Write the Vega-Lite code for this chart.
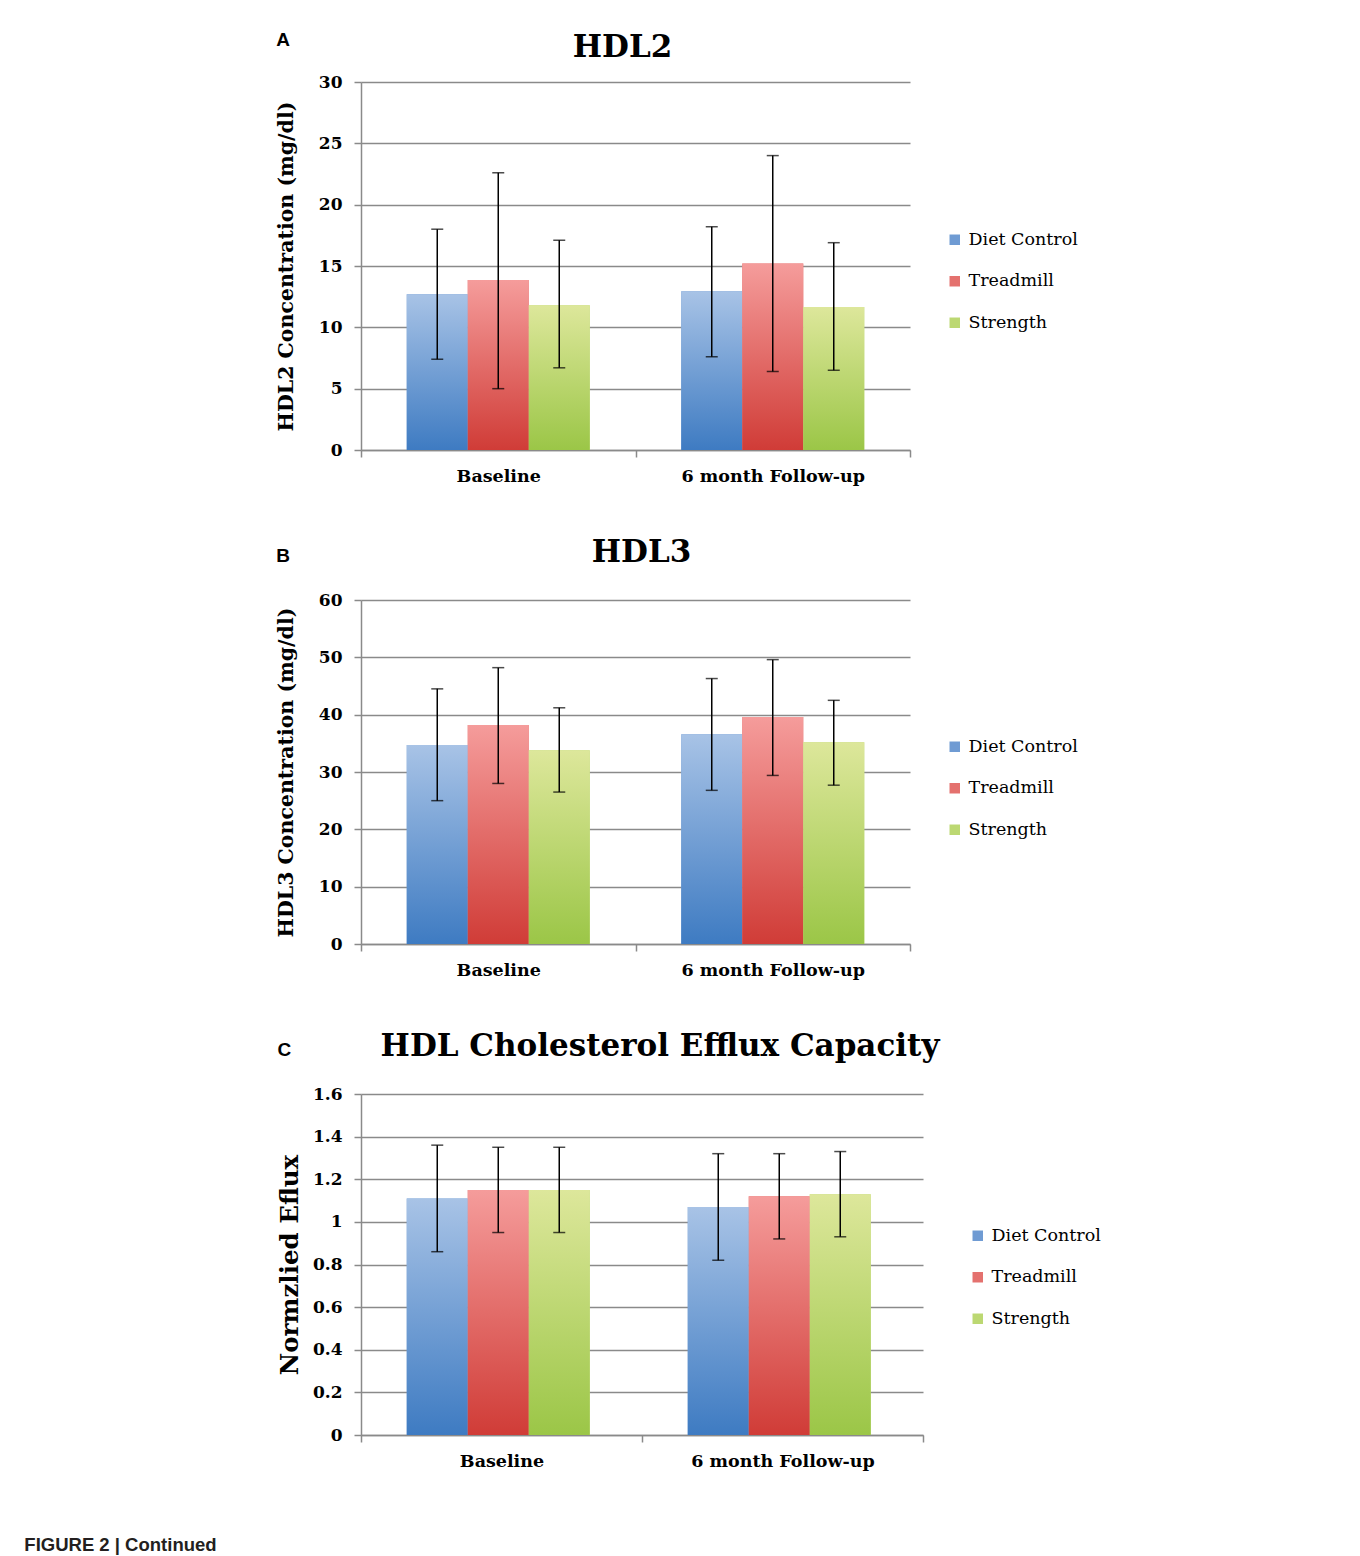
{
  "$schema": "https://vega.github.io/schema/vega-lite/v6.json",
  "background": "white",
  "padding": {"left": 24, "top": 31, "right": 10, "bottom": 4},
  "columns": 1,
  "align": "none",
  "spacing": 52,
  "title": {"text": "FIGURE 2 | Continued", "orient": "bottom", "anchor": "start", "frame": "bounds", "dx": -252, "offset": 66, "font": "Liberation Sans", "fontSize": 18.5, "fontWeight": "bold", "color": "#231f20"},
  "config": {
    "view": {"stroke": null},
    "axis": {
      "domainColor": "#8a8a8a", "domainWidth": 1.5, "tickColor": "#8a8a8a", "tickWidth": 1.5, "tickSize": 7,
      "gridColor": "#8a8a8a", "gridWidth": 1.5,
      "labelFont": "DejaVu Serif", "labelFontWeight": "bold", "labelColor": "black", "labelFontSize": 17,
      "titleFont": "DejaVu Serif", "titleFontWeight": "bold", "titleColor": "black"
    },
    "legend": {
      "title": null, "orient": "none", "symbolType": "square", "symbolSize": 110, "symbolStrokeWidth": 0,
      "labelFont": "DejaVu Serif", "labelFontSize": 17.5, "labelColor": "black", "rowPadding": 22.5, "labelOffset": 5,
      "symbolOpacity": 1
    },
    "title": {"color": "black"}
  },
  "resolve": {"scale": {"color": "independent", "y": "independent"}, "legend": {"color": "independent"}},
  "concat": [
    {
      "title": {"text": "A", "anchor": "start", "frame": "bounds", "offset": -18, "font": "Liberation Sans", "fontSize": 19, "fontWeight": "bold", "color": "black"},
      "vconcat": [
        {
          "title": {"text": "HDL2", "anchor": "middle", "frame": "group", "dx": -13, "offset": 9, "font": "DejaVu Serif", "fontSize": 31, "fontWeight": "bold", "color": "black"},
          "width": 549,
          "height": 368,
          "data": {"values": [
            {"time": "Baseline", "group": "Diet Control", "mean": 12.7, "lo": 7.4, "hi": 18.0},
            {"time": "Baseline", "group": "Treadmill", "mean": 13.85, "lo": 5.0, "hi": 22.6},
            {"time": "Baseline", "group": "Strength", "mean": 11.8, "lo": 6.7, "hi": 17.1},
            {"time": "6 month Follow-up", "group": "Diet Control", "mean": 12.95, "lo": 7.6, "hi": 18.2},
            {"time": "6 month Follow-up", "group": "Treadmill", "mean": 15.2, "lo": 6.4, "hi": 24.0},
            {"time": "6 month Follow-up", "group": "Strength", "mean": 11.65, "lo": 6.5, "hi": 16.9}
          ]},
          "encoding": {
            "x": {"field": "time", "type": "nominal", "sort": ["Baseline", "6 month Follow-up"], "scale": {"paddingInner": 0, "paddingOuter": 0},
              "axis": {"title": null, "labelAngle": 0, "tickBand": "extent", "labelPadding": 10, "labelFontSize": 17.5, "labelLimit": 400, "grid": false}},
            "xOffset": {"field": "group", "type": "nominal", "scale": {"domain": ["Diet Control", "Treadmill", "Strength"], "paddingInner": 0, "paddingOuter": 0.75}},
            "y": {"field": "mean", "type": "quantitative", "title": "HDL2 Concentration (mg/dl)", "scale": {"domain": [0, 30], "nice": false},
              "axis": {"values": [0, 5, 10, 15, 20, 25, 30], "labelPadding": 12, "titlePadding": 22, "titleFontSize": 20.5}}
          },
          "layer": [
            {
              "mark": {"type": "bar"},
              "encoding": {
                "color": {"field": "group", "type": "nominal",
                  "scale": {"domain": ["Diet Control", "Treadmill", "Strength"], "range": ["#6f9bd3", "#e4716e", "#bcd872"]},
                  "legend": {"legendX": 585, "legendY": 149,
                    "encode": {"symbols": {"update": {"fill": [
                      {"test": "datum.value === 'Diet Control'", "value": {"gradient": "linear", "x1": 0, "y1": 0, "x2": 0, "y2": 1, "stops": [{"offset": 0, "color": "#a8c3e6"}, {"offset": 1, "color": "#3e7bc2"}]}},
                      {"test": "datum.value === 'Treadmill'", "value": {"gradient": "linear", "x1": 0, "y1": 0, "x2": 0, "y2": 1, "stops": [{"offset": 0, "color": "#f59c9b"}, {"offset": 1, "color": "#d03c37"}]}},
                      {"value": {"gradient": "linear", "x1": 0, "y1": 0, "x2": 0, "y2": 1, "stops": [{"offset": 0, "color": "#dde79b"}, {"offset": 1, "color": "#9bc647"}]}}
                    ]}}}}}
              }
            },
            {"transform": [{"filter": "datum.group === 'Diet Control'"}], "mark": {"type": "bar", "fill": {"gradient": "linear", "x1": 0, "y1": 0, "x2": 0, "y2": 1, "stops": [{"offset": 0, "color": "#a8c3e6"}, {"offset": 1, "color": "#3e7bc2"}]}}},
            {"transform": [{"filter": "datum.group === 'Treadmill'"}], "mark": {"type": "bar", "fill": {"gradient": "linear", "x1": 0, "y1": 0, "x2": 0, "y2": 1, "stops": [{"offset": 0, "color": "#f59c9b"}, {"offset": 1, "color": "#d03c37"}]}}},
            {"transform": [{"filter": "datum.group === 'Strength'"}], "mark": {"type": "bar", "fill": {"gradient": "linear", "x1": 0, "y1": 0, "x2": 0, "y2": 1, "stops": [{"offset": 0, "color": "#dde79b"}, {"offset": 1, "color": "#9bc647"}]}}},
            {
              "mark": {"type": "rule", "color": "black", "strokeWidth": 1.5},
              "encoding": {"y": {"field": "lo", "type": "quantitative", "title": "HDL2 Concentration (mg/dl)"}, "y2": {"field": "hi"}}
            },
            {
              "mark": {"type": "tick", "color": "black", "thickness": 1.5, "size": 12},
              "encoding": {"y": {"field": "lo", "type": "quantitative", "title": "HDL2 Concentration (mg/dl)"}}
            },
            {
              "mark": {"type": "tick", "color": "black", "thickness": 1.5, "size": 12},
              "encoding": {"y": {"field": "hi", "type": "quantitative", "title": "HDL2 Concentration (mg/dl)"}}
            }
          ]
        }
      ]
    },
    {
      "title": {"text": "B", "anchor": "start", "frame": "bounds", "offset": -29, "font": "Liberation Sans", "fontSize": 19, "fontWeight": "bold", "color": "black"},
      "vconcat": [
        {
          "title": {"text": "HDL3", "anchor": "middle", "frame": "group", "dx": 6, "offset": 22, "font": "DejaVu Serif", "fontSize": 31, "fontWeight": "bold", "color": "black"},
          "width": 549,
          "height": 344,
          "data": {"values": [
            {"time": "Baseline", "group": "Diet Control", "mean": 34.7, "lo": 25.0, "hi": 44.5},
            {"time": "Baseline", "group": "Treadmill", "mean": 38.2, "lo": 28.0, "hi": 48.2},
            {"time": "Baseline", "group": "Strength", "mean": 33.8, "lo": 26.5, "hi": 41.2},
            {"time": "6 month Follow-up", "group": "Diet Control", "mean": 36.6, "lo": 26.8, "hi": 46.3},
            {"time": "6 month Follow-up", "group": "Treadmill", "mean": 39.6, "lo": 29.4, "hi": 49.6},
            {"time": "6 month Follow-up", "group": "Strength", "mean": 35.2, "lo": 27.7, "hi": 42.5}
          ]},
          "encoding": {
            "x": {"field": "time", "type": "nominal", "sort": ["Baseline", "6 month Follow-up"], "scale": {"paddingInner": 0, "paddingOuter": 0},
              "axis": {"title": null, "labelAngle": 0, "tickBand": "extent", "labelPadding": 10, "labelFontSize": 17.5, "labelLimit": 400, "grid": false}},
            "xOffset": {"field": "group", "type": "nominal", "scale": {"domain": ["Diet Control", "Treadmill", "Strength"], "paddingInner": 0, "paddingOuter": 0.75}},
            "y": {"field": "mean", "type": "quantitative", "title": "HDL3 Concentration (mg/dl)", "scale": {"domain": [0, 60], "nice": false},
              "axis": {"values": [0, 10, 20, 30, 40, 50, 60], "labelPadding": 12, "titlePadding": 22, "titleFontSize": 20.5}}
          },
          "layer": [
            {
              "mark": {"type": "bar"},
              "encoding": {
                "color": {"field": "group", "type": "nominal",
                  "scale": {"domain": ["Diet Control", "Treadmill", "Strength"], "range": ["#6f9bd3", "#e4716e", "#bcd872"]},
                  "legend": {"legendX": 585, "legendY": 138,
                    "encode": {"symbols": {"update": {"fill": [
                      {"test": "datum.value === 'Diet Control'", "value": {"gradient": "linear", "x1": 0, "y1": 0, "x2": 0, "y2": 1, "stops": [{"offset": 0, "color": "#a8c3e6"}, {"offset": 1, "color": "#3e7bc2"}]}},
                      {"test": "datum.value === 'Treadmill'", "value": {"gradient": "linear", "x1": 0, "y1": 0, "x2": 0, "y2": 1, "stops": [{"offset": 0, "color": "#f59c9b"}, {"offset": 1, "color": "#d03c37"}]}},
                      {"value": {"gradient": "linear", "x1": 0, "y1": 0, "x2": 0, "y2": 1, "stops": [{"offset": 0, "color": "#dde79b"}, {"offset": 1, "color": "#9bc647"}]}}
                    ]}}}}}
              }
            },
            {"transform": [{"filter": "datum.group === 'Diet Control'"}], "mark": {"type": "bar", "fill": {"gradient": "linear", "x1": 0, "y1": 0, "x2": 0, "y2": 1, "stops": [{"offset": 0, "color": "#a8c3e6"}, {"offset": 1, "color": "#3e7bc2"}]}}},
            {"transform": [{"filter": "datum.group === 'Treadmill'"}], "mark": {"type": "bar", "fill": {"gradient": "linear", "x1": 0, "y1": 0, "x2": 0, "y2": 1, "stops": [{"offset": 0, "color": "#f59c9b"}, {"offset": 1, "color": "#d03c37"}]}}},
            {"transform": [{"filter": "datum.group === 'Strength'"}], "mark": {"type": "bar", "fill": {"gradient": "linear", "x1": 0, "y1": 0, "x2": 0, "y2": 1, "stops": [{"offset": 0, "color": "#dde79b"}, {"offset": 1, "color": "#9bc647"}]}}},
            {
              "mark": {"type": "rule", "color": "black", "strokeWidth": 1.5},
              "encoding": {"y": {"field": "lo", "type": "quantitative", "title": "HDL3 Concentration (mg/dl)"}, "y2": {"field": "hi"}}
            },
            {
              "mark": {"type": "tick", "color": "black", "thickness": 1.5, "size": 12},
              "encoding": {"y": {"field": "lo", "type": "quantitative", "title": "HDL3 Concentration (mg/dl)"}}
            },
            {
              "mark": {"type": "tick", "color": "black", "thickness": 1.5, "size": 12},
              "encoding": {"y": {"field": "hi", "type": "quantitative", "title": "HDL3 Concentration (mg/dl)"}}
            }
          ]
        }
      ]
    },
    {
      "title": {"text": "C", "anchor": "start", "frame": "bounds", "offset": -29, "font": "Liberation Sans", "fontSize": 19, "fontWeight": "bold", "color": "black"},
      "vconcat": [
        {
          "title": {"text": "HDL Cholesterol Efflux Capacity", "anchor": "middle", "frame": "group", "dx": 18, "offset": 22, "font": "DejaVu Serif", "fontSize": 31, "fontWeight": "bold", "color": "black"},
          "width": 562,
          "height": 341,
          "data": {"values": [
            {"time": "Baseline", "group": "Diet Control", "mean": 1.11, "lo": 0.86, "hi": 1.36},
            {"time": "Baseline", "group": "Treadmill", "mean": 1.15, "lo": 0.95, "hi": 1.35},
            {"time": "Baseline", "group": "Strength", "mean": 1.15, "lo": 0.95, "hi": 1.35},
            {"time": "6 month Follow-up", "group": "Diet Control", "mean": 1.07, "lo": 0.82, "hi": 1.32},
            {"time": "6 month Follow-up", "group": "Treadmill", "mean": 1.12, "lo": 0.92, "hi": 1.32},
            {"time": "6 month Follow-up", "group": "Strength", "mean": 1.13, "lo": 0.93, "hi": 1.33}
          ]},
          "encoding": {
            "x": {"field": "time", "type": "nominal", "sort": ["Baseline", "6 month Follow-up"], "scale": {"paddingInner": 0, "paddingOuter": 0},
              "axis": {"title": null, "labelAngle": 0, "tickBand": "extent", "labelPadding": 10, "labelFontSize": 17.5, "labelLimit": 400, "grid": false}},
            "xOffset": {"field": "group", "type": "nominal", "scale": {"domain": ["Diet Control", "Treadmill", "Strength"], "paddingInner": 0, "paddingOuter": 0.75}},
            "y": {"field": "mean", "type": "quantitative", "title": "Normzlied Eflux", "scale": {"domain": [0, 1.6], "nice": false},
              "axis": {"values": [0, 0.2, 0.4, 0.6, 0.8, 1, 1.2, 1.4, 1.6], "format": "~g", "labelPadding": 12, "titlePadding": 10, "titleFontSize": 24.5}}
          },
          "layer": [
            {
              "mark": {"type": "bar"},
              "encoding": {
                "color": {"field": "group", "type": "nominal",
                  "scale": {"domain": ["Diet Control", "Treadmill", "Strength"], "range": ["#6f9bd3", "#e4716e", "#bcd872"]},
                  "legend": {"legendX": 608, "legendY": 133,
                    "encode": {"symbols": {"update": {"fill": [
                      {"test": "datum.value === 'Diet Control'", "value": {"gradient": "linear", "x1": 0, "y1": 0, "x2": 0, "y2": 1, "stops": [{"offset": 0, "color": "#a8c3e6"}, {"offset": 1, "color": "#3e7bc2"}]}},
                      {"test": "datum.value === 'Treadmill'", "value": {"gradient": "linear", "x1": 0, "y1": 0, "x2": 0, "y2": 1, "stops": [{"offset": 0, "color": "#f59c9b"}, {"offset": 1, "color": "#d03c37"}]}},
                      {"value": {"gradient": "linear", "x1": 0, "y1": 0, "x2": 0, "y2": 1, "stops": [{"offset": 0, "color": "#dde79b"}, {"offset": 1, "color": "#9bc647"}]}}
                    ]}}}}}
              }
            },
            {"transform": [{"filter": "datum.group === 'Diet Control'"}], "mark": {"type": "bar", "fill": {"gradient": "linear", "x1": 0, "y1": 0, "x2": 0, "y2": 1, "stops": [{"offset": 0, "color": "#a8c3e6"}, {"offset": 1, "color": "#3e7bc2"}]}}},
            {"transform": [{"filter": "datum.group === 'Treadmill'"}], "mark": {"type": "bar", "fill": {"gradient": "linear", "x1": 0, "y1": 0, "x2": 0, "y2": 1, "stops": [{"offset": 0, "color": "#f59c9b"}, {"offset": 1, "color": "#d03c37"}]}}},
            {"transform": [{"filter": "datum.group === 'Strength'"}], "mark": {"type": "bar", "fill": {"gradient": "linear", "x1": 0, "y1": 0, "x2": 0, "y2": 1, "stops": [{"offset": 0, "color": "#dde79b"}, {"offset": 1, "color": "#9bc647"}]}}},
            {
              "mark": {"type": "rule", "color": "black", "strokeWidth": 1.5},
              "encoding": {"y": {"field": "lo", "type": "quantitative", "title": "Normzlied Eflux"}, "y2": {"field": "hi"}}
            },
            {
              "mark": {"type": "tick", "color": "black", "thickness": 1.5, "size": 12},
              "encoding": {"y": {"field": "lo", "type": "quantitative", "title": "Normzlied Eflux"}}
            },
            {
              "mark": {"type": "tick", "color": "black", "thickness": 1.5, "size": 12},
              "encoding": {"y": {"field": "hi", "type": "quantitative", "title": "Normzlied Eflux"}}
            }
          ]
        }
      ]
    }
  ]
}
